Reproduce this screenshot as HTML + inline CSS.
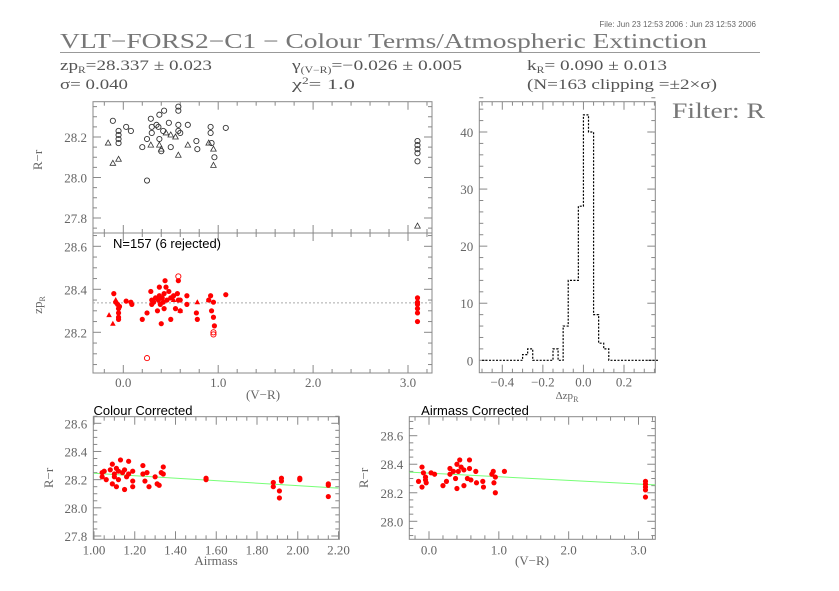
<!DOCTYPE html>
<html><head><meta charset="utf-8"><style>
html,body{margin:0;padding:0;background:#fff;}
svg{display:block;font-family:"Liberation Serif",serif;}
</style></head><body>
<svg id="c" width="839" height="591" viewBox="0 0 839 591" xmlns="http://www.w3.org/2000/svg">
<text x="756" y="27" font-size="8" fill="#666" text-anchor="end" font-family="Liberation Sans, sans-serif">File: Jun 23 12:53 2006 : Jun 23 12:53 2006</text>
<text x="60" y="48" font-size="21" fill="#777" textLength="647" lengthAdjust="spacingAndGlyphs">VLT−FORS2−C1 − Colour Terms/Atmospheric Extinction</text>
<line x1="60" y1="52.5" x2="760" y2="52.5" stroke="#999" stroke-width="1"/>
<text x="60" y="70" font-size="15" fill="#555" textLength="152" lengthAdjust="spacingAndGlyphs">zp<tspan font-size="9" dy="3">R</tspan><tspan dy="-3">=28.337 ± 0.023</tspan></text>
<text x="60" y="89" font-size="15" fill="#555" textLength="68" lengthAdjust="spacingAndGlyphs">σ= 0.040</text>
<text x="292" y="70" font-size="15" fill="#555" textLength="170" lengthAdjust="spacingAndGlyphs">γ<tspan font-size="9" dy="3">(V−R)</tspan><tspan dy="-3">=−0.026 ± 0.005</tspan></text>
<text x="292" y="89" font-size="15" fill="#555" textLength="63" lengthAdjust="spacingAndGlyphs">χ<tspan font-size="9" dy="-5">2</tspan><tspan dy="5">=   1.0</tspan></text>
<text x="527" y="70" font-size="15" fill="#555" textLength="140" lengthAdjust="spacingAndGlyphs">k<tspan font-size="9" dy="3">R</tspan><tspan dy="-3">= 0.090 ± 0.013</tspan></text>
<text x="527" y="89" font-size="15" fill="#555" textLength="190" lengthAdjust="spacingAndGlyphs">(N=163 clipping =±2×σ)</text>
<text x="672" y="118" font-size="22" fill="#777" textLength="93" lengthAdjust="spacingAndGlyphs">Filter: R</text>
</svg>
<script>
// ---- data ----
const zpVR=[-0.1,-0.08,-0.06,-0.05,-0.05,-0.05,-0.04,-0.05,0.03,0.08,0.09,0.2,0.25,0.29,0.3,0.3,0.32,0.34,0.36,0.37,0.38,0.38,0.39,0.4,0.41,0.42,0.43,0.43,0.44,0.45,0.46,0.48,0.5,0.5,0.53,0.55,0.57,0.58,0.58,0.6,0.6,0.67,0.67,0.77,0.78,0.9,0.92,0.93,0.95,0.95,0.96,1.08,3.1,3.1,3.1,3.1,3.1,3.1];
const zpVal=[28.38,28.34,28.33,28.31,28.29,28.27,28.32,28.26,28.345,28.34,28.33,28.26,28.29,28.39,28.35,28.33,28.34,28.36,28.3,28.35,28.37,28.41,28.33,28.24,28.36,28.34,28.31,28.38,28.44,28.41,28.35,28.39,28.36,28.26,28.37,28.31,28.38,28.44,28.35,28.35,28.3,28.37,28.33,28.29,28.26,28.35,28.37,28.3,28.34,28.27,28.23,28.375,28.36,28.34,28.33,28.31,28.29,28.25];
const zpTriVR=[-0.15,-0.11,-0.08,0.53,0.6,0.78,0.9];
const zpTriVal=[28.28,28.24,28.35,28.35,28.3,28.34,28.35];
const rejVR=[0.25,0.58,0.95,0.95];
const rejVal=[28.08,28.46,28.2,28.19];
const zpMean=28.337;
const topCircVR=[-0.11,-0.05,-0.05,-0.05,-0.05,0.03,0.08,0.2,0.25,0.25,0.29,0.3,0.3,0.35,0.37,0.38,0.38,0.4,0.42,0.43,0.48,0.5,0.58,0.58,0.58,0.58,0.6,0.68,0.77,0.78,0.92,0.92,0.93,0.96,1.08,3.1,3.1,3.1,3.1,3.1];
const topCircVal=[28.28,28.23,28.21,28.19,28.17,28.25,28.23,28.15,28.19,27.985,28.29,28.25,28.22,28.26,28.25,28.31,28.19,28.13,28.23,28.33,28.27,28.15,28.35,28.33,28.26,28.23,28.22,28.26,28.18,28.14,28.25,28.22,28.17,28.1,28.245,28.18,28.16,28.14,28.12,28.08];
const topTriVR=[-0.16,-0.11,-0.05,0.29,0.38,0.4,0.45,0.5,0.58,0.68,0.9,0.95,0.95,0.55,3.1];
const topTriVal=[28.17,28.07,28.09,28.16,28.16,28.14,28.22,28.21,28.11,28.16,28.17,28.14,28.06,28.2,27.76];
const binStart=-0.5, binWidth=0.025;
const histCounts=[0,0,0,0,0,0,0,0,1,2,0,0,0,0,2,0,6,14,14,27,43,40,8,3,2,0,0,0,0,0,0,0,0,0,0];
const amX=[1.04,1.04,1.05,1.06,1.08,1.09,1.09,1.1,1.1,1.11,1.11,1.12,1.12,1.13,1.14,1.15,1.15,1.16,1.17,1.17,1.19,1.19,1.19,1.24,1.24,1.25,1.26,1.27,1.3,1.31,1.32,1.33,1.34,1.34,1.55,1.55,1.88,1.88,1.91,1.91,1.92,1.92,2.01,2.01,2.15,2.15,2.15];
const amY=[28.25,28.22,28.26,28.2,28.27,28.31,28.17,28.24,28.22,28.28,28.15,28.26,28.2,28.34,28.25,28.27,28.13,28.22,28.33,28.24,28.26,28.19,28.15,28.3,28.24,28.19,28.25,28.15,28.22,28.17,28.16,28.25,28.29,28.24,28.21,28.2,28.18,28.15,28.12,28.07,28.21,28.19,28.21,28.2,28.17,28.16,28.08];
const acX=[-0.15,-0.1,-0.1,-0.08,-0.05,-0.05,-0.04,0.03,0.08,0.2,0.25,0.3,0.3,0.35,0.38,0.4,0.4,0.42,0.44,0.46,0.5,0.5,0.55,0.58,0.58,0.6,0.67,0.68,0.77,0.78,0.9,0.92,0.93,0.95,0.95,1.08,3.1,3.1,3.1,3.1,3.1];
const acY=[28.28,28.38,28.24,28.34,28.31,28.29,28.27,28.34,28.33,28.25,28.28,28.37,28.33,28.35,28.3,28.4,28.23,28.35,28.43,28.38,28.36,28.25,28.3,28.43,28.37,28.29,28.35,28.27,28.28,28.24,28.33,28.35,28.27,28.31,28.2,28.35,28.28,28.26,28.24,28.22,28.17];
const fitAm=[1.0,2.2], fitAmY=[28.245,28.14];
const fitVR=[-0.28,3.24], fitVRY=[28.345,28.255];

// ---- helpers ----
const svg=document.getElementById('c');
const NS='http://www.w3.org/2000/svg';
function mk(tag,attrs,parent){const e=document.createElementNS(NS,tag);for(const k in attrs)e.setAttribute(k,attrs[k]);(parent||svg).appendChild(e);return e;}
function lin(d0,d1,r0,r1){return v=>r0+(v-d0)*(r1-r0)/(d1-d0);}
function frame(x0,y0,x1,y1,name){const r=mk('rect',{x:x0,y:y0,width:x1-x0,height:y1-y0,fill:'none',stroke:'#888','stroke-width':1});}
function tickVals(min,max,step,minor){const out=[];const per=Math.round(step/minor);const i0=Math.ceil(min/minor-1e-9),i1=Math.floor(max/minor+1e-9);for(let i=i0;i<=i1;i++){out.push({v:i*minor,major:((i%per)+per)%per===0});}return out;}
function xTicks(sx,y0,y1,min,max,step,minor,fmt,labels,name,off){
  const g=mk('g',{});
  tickVals(min,max,step,minor).forEach(t=>{const L=t.major?8:4;const x=sx(t.v);
    mk('line',{x1:x,x2:x,y1:y1,y2:y1-L,stroke:'#888'},g);mk('line',{x1:x,x2:x,y1:y0,y2:y0+L,stroke:'#888'},g);
    if(t.major&&labels){const e=mk('text',{x:x,y:y1+(off||14),'font-size':13,fill:'#666','text-anchor':'middle'},g);e.textContent=fmt(t.v);}
  });}
function yTicks(sy,x0,x1,min,max,step,minor,fmt,labels,name){
  const g=mk('g',{});
  tickVals(min,max,step,minor).forEach(t=>{const L=t.major?8:4;const y=sy(t.v);
    mk('line',{x1:x0,x2:x0+L,y1:y,y2:y,stroke:'#888'},g);mk('line',{x1:x1,x2:x1-L,y1:y,y2:y,stroke:'#888'},g);
    if(t.major&&labels){const e=mk('text',{x:x0-6,y:y+5,'font-size':13,fill:'#666','text-anchor':'end'},g);e.textContent=fmt(t.v);}
  });}
function label(x,y,txt,size,rot,name,color,fam){const t=mk('text',{x:x,y:y,'font-size':size,fill:color||'#666','text-anchor':'middle'});if(fam)t.setAttribute('font-family',fam);if(rot)t.setAttribute('transform','rotate(-90 '+x+' '+y+')');t.innerHTML=txt;return t;}
function dots(xs,ys,sx,sy,kind,color,name){
  const g=mk('g',{});
  for(let i=0;i<xs.length;i++){const x=sx(xs[i]),y=sy(ys[i]);let e;
    if(kind==='fill')e=mk('circle',{cx:x,cy:y,r:2.6,fill:color},g);
    else if(kind==='open')e=mk('circle',{cx:x,cy:y,r:2.6,fill:'none',stroke:color,'stroke-width':0.9},g);
    else if(kind==='tri')e=mk('polygon',{points:(x)+','+(y-3)+' '+(x-2.8)+','+(y+2)+' '+(x+2.8)+','+(y+2),fill:'none',stroke:color,'stroke-width':0.8},g);
    else e=mk('polygon',{points:(x)+','+(y-3)+' '+(x-2.8)+','+(y+2)+' '+(x+2.8)+','+(y+2),fill:color},g);
    }}
const fix=(v,n)=>{const s=(Math.abs(v)<1e-9?0:v).toFixed(n);return s.replace('-','−');};
const f1=v=>fix(v,1), f2=v=>fix(v,2);

// ---- top-left panels ----
const sxVR=lin(0,3,123.3,408);
const syTop=lin(28.2,27.8,137,218);
const syMid=lin(28.6,28.2,246.3,332.3);
frame(93,101.7,432,233,'top-panel-frame');
frame(93,233,432,373,'zp-panel-frame');
xTicks(sxVR,101.7,233,-0.3,3.25,1,0.2,f1,false,'top-x-ticks');
xTicks(sxVR,233,373,-0.3,3.25,1,0.2,f1,true,'zp-x-ticks',14);
yTicks(syTop,93,432,27.72,28.37,0.2,0.05,f1,true,'top-y-ticks');
yTicks(syMid,93,432,28.02,28.66,0.2,0.05,f1,true,'zp-y-ticks');
label(42,160,'R−r',13,true,'top-y-title');
label(42,305,'zp<tspan font-size="8" dy="3">R</tspan>',13,true,'zp-y-title');
label(263,399,'(V−R)',13,false,'zp-x-title');
const ml=mk('line',{x1:93,x2:432,y1:syMid(zpMean),y2:syMid(zpMean),stroke:'#aaa','stroke-dasharray':'2,2'});

dots(topCircVR,topCircVal,sxVR,syTop,'open','#333','top-circles');
dots(topTriVR,topTriVal,sxVR,syTop,'tri','#333','top-triangles');
dots(zpVR,zpVal,sxVR,syMid,'fill','#f00','zp-points');
dots(zpTriVR,zpTriVal,sxVR,syMid,'ftri','#f00','zp-triangles');
dots(rejVR,rejVal,sxVR,syMid,'open','#f00','rejected-points');
label(167,248,'N=157 (6 rejected)',13,false,'n-label','#000','Liberation Sans, sans-serif');

// ---- histogram ----
const sxH=lin(-0.4,0.2,502.3,624);
const syH=lin(0,40,360.3,132);
frame(479.3,101.7,655.3,372.7,'hist-frame');
xTicks(sxH,101.7,372.7,-0.5,0.35,0.2,0.05,f1,true,'hist-x-ticks',14);
yTicks(syH,479.3,655.3,0,47,10,2,v=>String(Math.round(v)),true,'hist-y-ticks');
label(567,399,'Δzp<tspan font-size="8" dy="3">R</tspan>',11,false,'hist-x-title');
let d='M'+sxH(binStart)+','+syH(0);
for(let i=0;i<histCounts.length;i++){const x0=sxH(binStart+i*binWidth),x1=sxH(binStart+(i+1)*binWidth),y=syH(histCounts[i]);d+=' L'+x0+','+y+' L'+x1+','+y;}
d+=' L'+sxH(binStart+histCounts.length*binWidth)+','+syH(0);
const hp=mk('path',{d:d,fill:'none',stroke:'#000','stroke-width':1.2,'stroke-dasharray':'2,1.5'});


// ---- bottom-left ----
const sxA=lin(1,2.2,94,338.5);
const syA=lin(28.6,27.8,423.3,536);
frame(93.3,416.7,339.3,539.3,'colour-corrected-frame');
xTicks(sxA,416.7,539.3,1,2.2,0.2,0.05,f2,true,'am-x-ticks',15);
yTicks(syA,93.3,339.3,27.76,28.65,0.2,0.05,f1,true,'am-y-ticks');
label(53,478,'R−r',13,true,'am-y-title');
label(216,565,'Airmass',13,false,'am-x-title');
label(143,415,'Colour Corrected',13,false,'colour-corrected-title','#000','Liberation Sans, sans-serif');
const g1=mk('line',{x1:sxA(fitAm[0]),y1:syA(fitAmY[0]),x2:sxA(fitAm[1]),y2:syA(fitAmY[1]),stroke:'#7f7','stroke-width':1});

dots(amX,amY,sxA,syA,'fill','#f00','airmass-points');

// ---- bottom-right ----
const sxB=lin(0,3,429,638.5);
const syB=lin(28.6,28.0,435.7,521.3);
frame(409.3,416.7,655.3,539.3,'airmass-corrected-frame');
xTicks(sxB,416.7,539.3,-0.28,3.24,1,0.2,f1,true,'ac-x-ticks',15);
yTicks(syB,409.3,655.3,27.87,28.73,0.2,0.05,f1,true,'ac-y-ticks');
label(368,478,'R−r',13,true,'ac-y-title');
label(532,565,'(V−R)',13,false,'ac-x-title');
label(475,415,'Airmass Corrected',13,false,'airmass-corrected-title','#000','Liberation Sans, sans-serif');
const g2=mk('line',{x1:sxB(fitVR[0]),y1:syB(fitVRY[0]),x2:sxB(fitVR[1]),y2:syB(fitVRY[1]),stroke:'#7f7','stroke-width':1});

dots(acX,acY,sxB,syB,'fill','#f00','colour-points');
</script>
</body></html>
